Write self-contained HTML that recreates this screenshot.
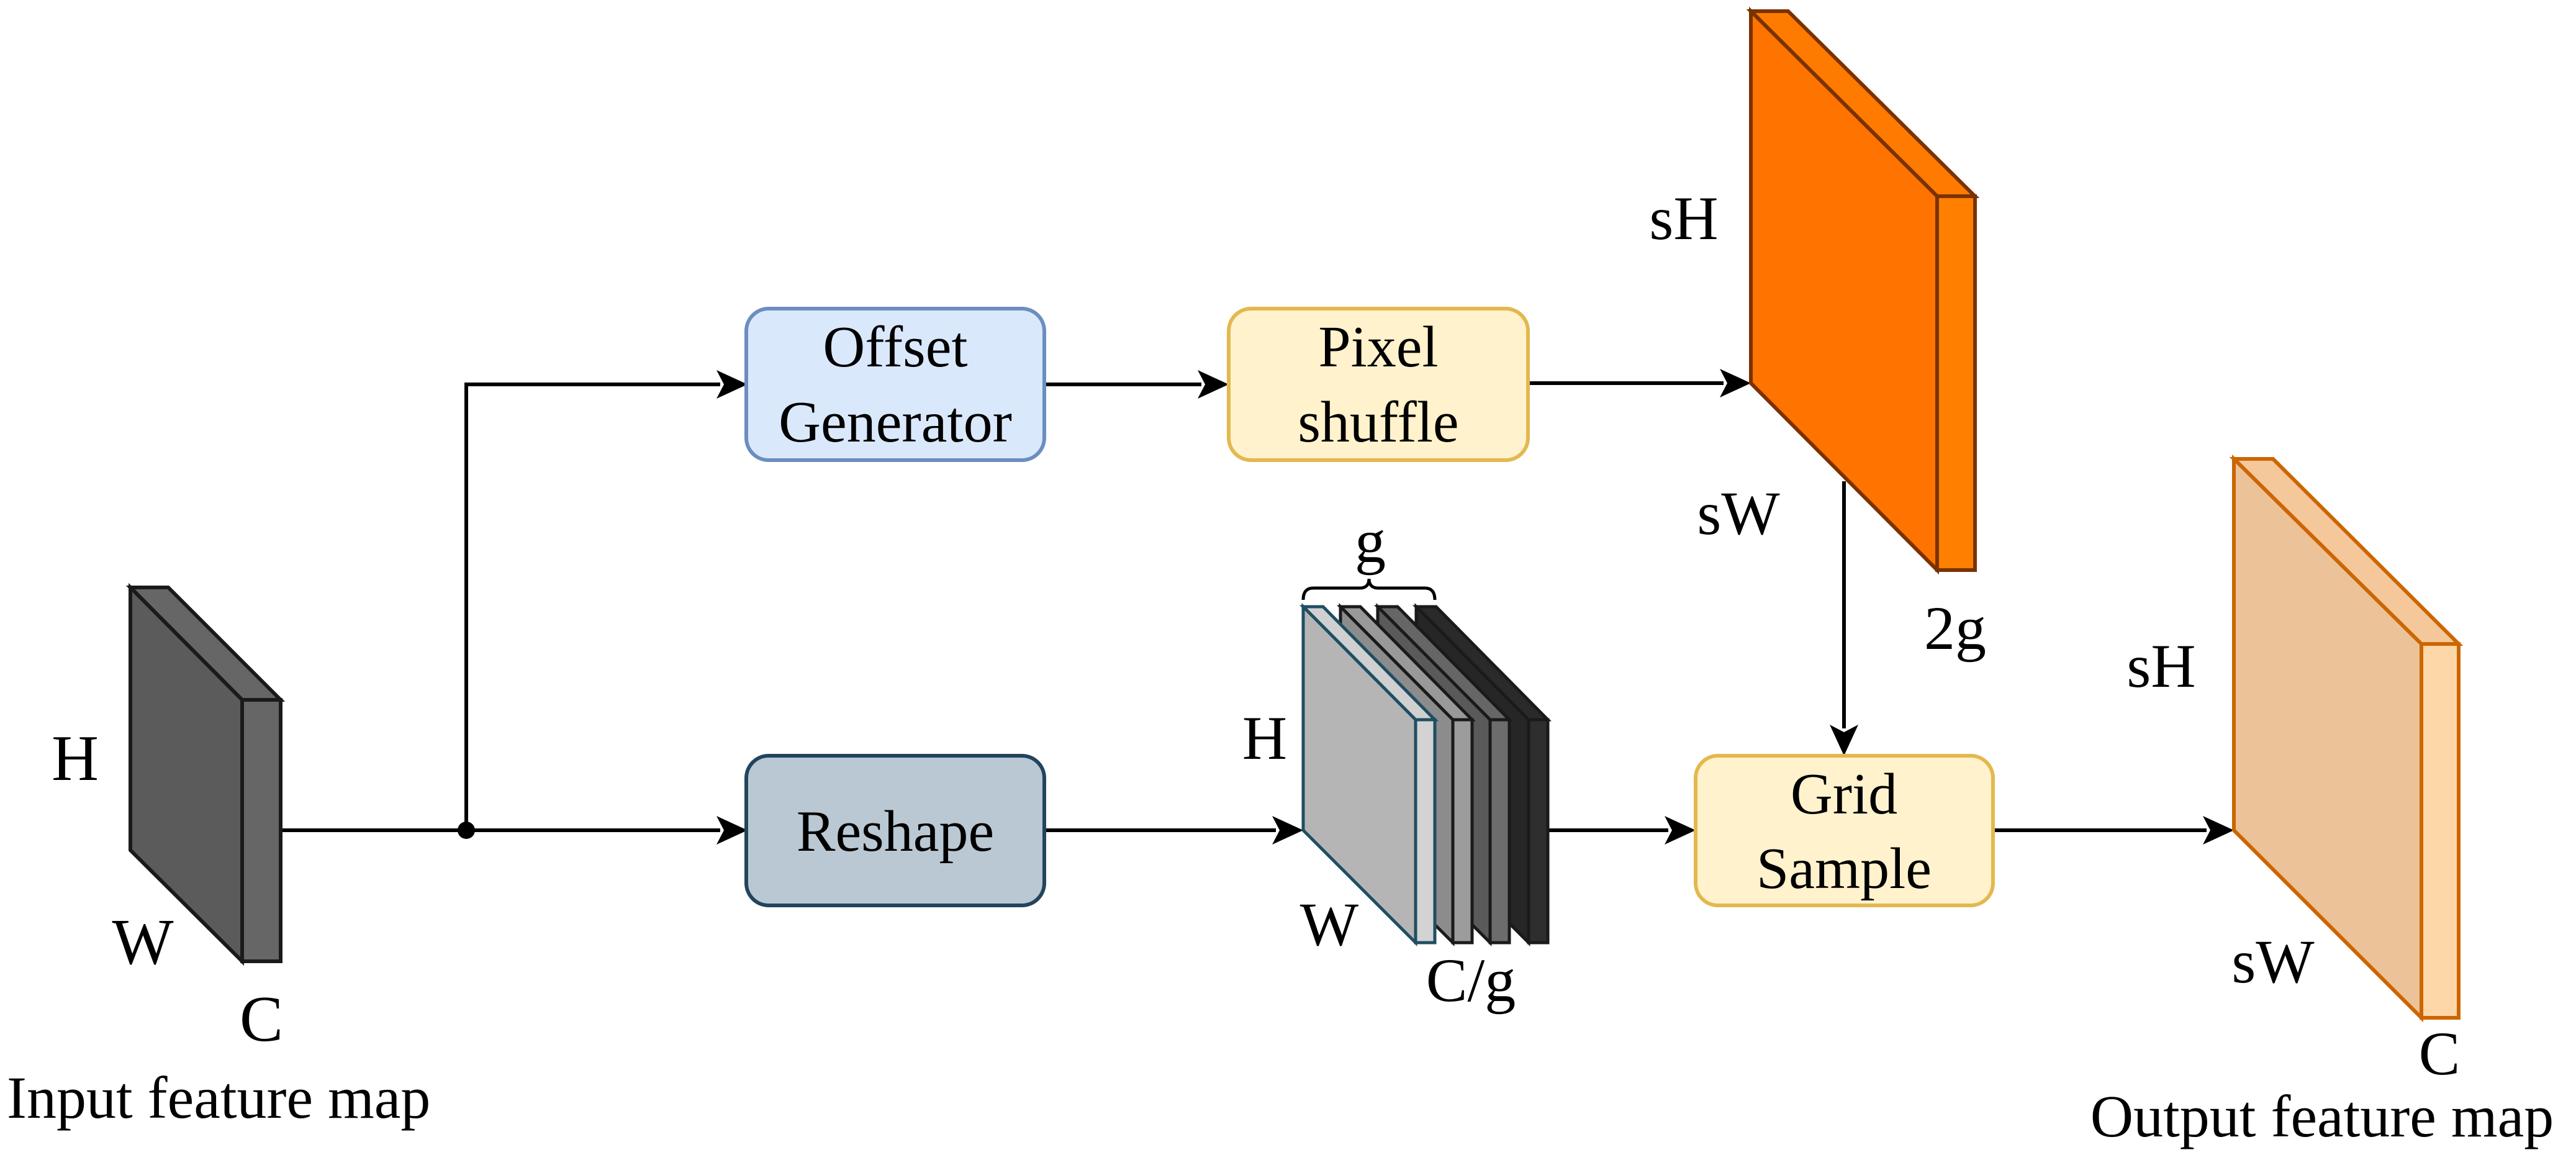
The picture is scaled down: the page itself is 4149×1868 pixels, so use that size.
<!DOCTYPE html>
<html><head><meta charset="utf-8"><style>
html,body{margin:0;padding:0;background:#fff;}
svg{display:block;}
text{font-family:"Liberation Serif",serif;fill:#000;}
</style></head><body>
<svg width="4149" height="1868" viewBox="0 0 4149 1868" xmlns="http://www.w3.org/2000/svg">
<rect width="4149" height="1868" fill="#fff"/>

<!-- connectors -->
<g stroke="#000" stroke-width="6" fill="none">
<line x1="452" y1="1337" x2="1160" y2="1337"/>
<polyline points="751,1337 751,619 1160,619"/>
<line x1="1683" y1="619" x2="1935" y2="619"/>
<line x1="2461" y1="617" x2="2776" y2="617"/>
<line x1="1683" y1="1337" x2="2055" y2="1337"/>
<line x1="2493" y1="1337" x2="2687" y2="1337"/>
<line x1="2970" y1="775" x2="2970" y2="1173"/>
<line x1="3210" y1="1337" x2="3554" y2="1337"/>
</g>
<g fill="#000">
<circle cx="751" cy="1337" r="14"/>
<path d="M1204,619 L1154,596 L1166,619 L1154,642 Z"/>
<path d="M1204,1337 L1154,1314 L1166,1337 L1154,1360 Z"/>
<path d="M1979,619 L1929,596 L1941,619 L1929,642 Z"/>
<path d="M2820,617 L2770,594 L2782,617 L2770,640 Z"/>
<path d="M2099,1337 L2049,1314 L2061,1337 L2049,1360 Z"/>
<path d="M2731,1337 L2681,1314 L2693,1337 L2681,1360 Z"/>
<path d="M3598,1337 L3548,1314 L3560,1337 L3548,1360 Z"/>
<path d="M2970,1217 L2947,1167 L2970,1179 L2993,1167 Z"/>
</g>

<!-- input block -->
<g stroke="#1a1a1a" stroke-width="6" stroke-linejoin="miter">
<polygon points="210,946 271,946 452,1127 390,1127" fill="#666"/>
<polygon points="390,1127 452,1127 452,1548 390,1548" fill="#666"/>
<polygon points="210,946 390,1127 390,1548 210,1369" fill="#5b5b5b"/>
</g>
<text x="121" y="1256" font-size="105" text-anchor="middle">H</text>
<text x="230" y="1552" font-size="105" text-anchor="middle">W</text>
<text x="421" y="1676" font-size="105" text-anchor="middle">C</text>
<text x="11" y="1800" font-size="96">Input feature map</text>

<!-- boxes -->
<rect x="1202" y="497" width="480" height="244" rx="36" fill="#dae8fc" stroke="#6c8ebf" stroke-width="6"/>
<text x="1442" y="590" font-size="94" text-anchor="middle">Offset</text>
<text x="1442" y="711" font-size="94" text-anchor="middle">Generator</text>

<rect x="1979" y="497" width="482" height="244" rx="36" fill="#fff2cc" stroke="#e3b84f" stroke-width="6"/>
<text x="2220" y="590" font-size="94" text-anchor="middle">Pixel</text>
<text x="2220" y="711" font-size="94" text-anchor="middle">shuffle</text>

<rect x="1202" y="1217" width="480" height="241" rx="36" fill="#bac8d3" stroke="#23445d" stroke-width="6"/>
<text x="1442" y="1370" font-size="94" text-anchor="middle">Reshape</text>

<rect x="2731" y="1217" width="479" height="241" rx="36" fill="#fff2cc" stroke="#e3b84f" stroke-width="6"/>
<text x="2970" y="1310" font-size="94" text-anchor="middle">Grid</text>
<text x="2970" y="1430" font-size="94" text-anchor="middle">Sample</text>

<!-- stacked layers -->
<g stroke-width="5" stroke-linejoin="miter">
<g transform="translate(182,0)" stroke="#1a1a1a">
<polygon points="2099,977 2131,977 2311,1159 2280,1159" fill="#2a2a2a"/>
<polygon points="2280,1159 2311,1159 2311,1518 2280,1518" fill="#2e2e2e"/>
<polygon points="2099,977 2280,1159 2280,1518 2099,1337" fill="#262626"/>
</g>
<g transform="translate(120,0)" stroke="#1a1a1a">
<polygon points="2099,977 2131,977 2311,1159 2280,1159" fill="#666"/>
<polygon points="2280,1159 2311,1159 2311,1518 2280,1518" fill="#6c6c6c"/>
<polygon points="2099,977 2280,1159 2280,1518 2099,1337" fill="#5a5a5a"/>
</g>
<g transform="translate(60,0)" stroke="#1a1a1a">
<polygon points="2099,977 2131,977 2311,1159 2280,1159" fill="#999"/>
<polygon points="2280,1159 2311,1159 2311,1518 2280,1518" fill="#9c9c9c"/>
<polygon points="2099,977 2280,1159 2280,1518 2099,1337" fill="#8c8c8c"/>
</g>
<g stroke="#1f4e63">
<polygon points="2099,977 2131,977 2311,1159 2280,1159" fill="#d0d0d0"/>
<polygon points="2280,1159 2311,1159 2311,1518 2280,1518" fill="#d3d3d3"/>
<polygon points="2099,977 2280,1159 2280,1518 2099,1337" fill="#b5b5b5"/>
</g>
</g>
<path d="M2099,966 Q2099,947 2115,947 L2190,947 Q2205,947 2205,932 Q2205,947 2220,947 L2295,947 Q2311,947 2311,966" fill="none" stroke="#000" stroke-width="5"/>
<text x="2207" y="905" font-size="100" text-anchor="middle">g</text>
<text x="2037" y="1222" font-size="100" text-anchor="middle">H</text>
<text x="2141" y="1522" font-size="100" text-anchor="middle">W</text>
<text x="2369" y="1612" font-size="100" text-anchor="middle">C/g</text>

<!-- orange offset block -->
<g stroke="#7a3200" stroke-width="6" stroke-linejoin="miter">
<polygon points="2820,18 2880,18 3181,316 3120,316" fill="#ff7a00"/>
<polygon points="3120,316 3181,316 3181,918 3120,918" fill="#ff8000"/>
<polygon points="2820,18 3120,316 3120,918 2820,617" fill="#ff7300"/>
</g>
<text x="2712" y="385" font-size="100" text-anchor="middle">sH</text>
<text x="2800" y="860" font-size="100" text-anchor="middle">sW</text>
<text x="3149" y="1045" font-size="100" text-anchor="middle">2g</text>

<!-- output block -->
<g stroke="#cc6600" stroke-width="6" stroke-linejoin="miter">
<polygon points="3598,739 3661,739 3960,1037 3900,1037" fill="#f5c89c"/>
<polygon points="3900,1037 3960,1037 3960,1639 3900,1639" fill="#fdd7a8"/>
<polygon points="3598,739 3900,1037 3900,1639 3598,1337" fill="#ecc298"/>
</g>
<text x="3481" y="1106" font-size="100" text-anchor="middle">sH</text>
<text x="3661" y="1582" font-size="100" text-anchor="middle">sW</text>
<text x="3929" y="1730" font-size="100" text-anchor="middle">C</text>
<text x="3740" y="1830" font-size="96" text-anchor="middle">Output feature map</text>
</svg>
</body></html>
